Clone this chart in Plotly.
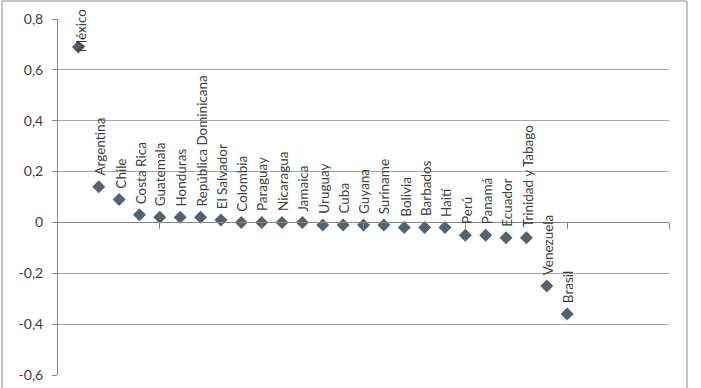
import plotly.graph_objects as go

countries = ["México", "Argentina", "Chile", "Costa Rica", "Guatemala", "Honduras",
             "República Dominicana", "El Salvador", "Colombia", "Paraguay", "Nicaragua",
             "Jamaica", "Uruguay", "Cuba", "Guyana", "Suriname", "Bolivia", "Barbados",
             "Haití", "Perú", "Panamá", "Ecuador", "Trinidad y Tabago", "Venezuela", "Brasil"]
values = [0.69, 0.14, 0.09, 0.03, 0.02, 0.02, 0.02, 0.01, 0.00, 0.00, 0.00, 0.00,
          -0.01, -0.01, -0.01, -0.01, -0.02, -0.02, -0.02, -0.05, -0.05, -0.06, -0.06,
          -0.25, -0.36]
positions = list(range(1, len(countries) + 1))
x_tickvals = [5, 10, 15, 20, 25, 30]
y_tickvals = [-0.6, -0.4, -0.2, 0, 0.2, 0.4, 0.6, 0.8]
y_ticktext = ["-0,6", "-0,4", "-0,2", "0", "0,2", "0,4", "0,6", "0,8"]

FONT = "Lato"
TXT = "#404040"
GRID = "#a6a6a6"
AX = "#868686"
LBL = 13.5

ymin, ymax = -0.6, 0.8
fig = go.Figure()
fig.add_trace(go.Scatter(
    x=positions, y=values, mode="markers",
    marker=dict(symbol="diamond", size=10, color="#56616e"),
    hoverinfo="text", text=countries, showlegend=False, cliponaxis=False,
))

annotations = []
for xv, yv, name in zip(positions, values, countries):
    if yv > 0.6:
        # label would run past the top; keep it inside the chart like the original
        annotations.append(dict(x=xv, y=1, xref="x", yref="paper", text=name,
                                textangle=-90, showarrow=False, xanchor="center",
                                yanchor="top", yshift=13, xshift=3,
                                font=dict(family=FONT, size=LBL, color=TXT)))
    else:
        annotations.append(dict(x=xv, y=yv, xref="x", yref="y", text=name,
                                textangle=-90, showarrow=False, xanchor="center",
                                yanchor="bottom", yshift=9, xshift=1,
                                font=dict(family=FONT, size=LBL, color=TXT)))

fig.update_layout(
    template="none",
    width=701, height=388,
    autosize=False,
    margin=dict(l=58, r=32, t=19, b=13, pad=0),
    paper_bgcolor="white", plot_bgcolor="white",
    font=dict(family=FONT, size=13, color=TXT),
    annotations=annotations,
    xaxis=dict(range=[0, 30], showgrid=False, zeroline=False, showticklabels=False,
               anchor="free", position=(0 - ymin) / (ymax - ymin), automargin=False,
               showline=True, linecolor=AX, linewidth=1,
               ticks="outside", ticklen=6, tickcolor=AX, tickwidth=1,
               tickvals=x_tickvals, fixedrange=True),
    yaxis=dict(range=[ymin, ymax], tickvals=y_tickvals, ticktext=y_ticktext,
               automargin=False,
               showgrid=True, gridcolor=GRID, gridwidth=1, zeroline=False,
               showline=True, linecolor=AX, linewidth=1, ticks="outside",
               ticklen=5, tickcolor=AX, tickfont=dict(family=FONT, size=14, color=TXT),
               ticklabelstandoff=6, fixedrange=True),
    shapes=[dict(type="rect", xref="paper", yref="paper",
                 x0=(2 - 58) / 611, x1=(687 - 58) / 611,
                 y0=(375 - 392) / 356, y1=(375 - 1) / 356,
                 line=dict(color="#8c8c8c", width=1), layer="below")],
)

fig.write_html("out.html", config={"displayModeBar": False},
               post_script="document.body.style.margin='0px';")
